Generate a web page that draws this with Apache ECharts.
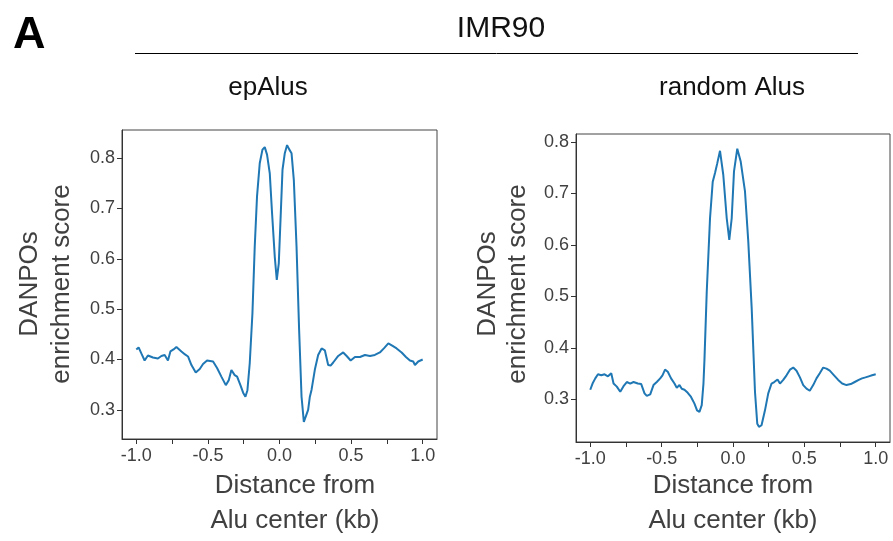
<!DOCTYPE html>
<html>
<head>
<meta charset="utf-8">
<script src="https://cdn.jsdelivr.net/npm/echarts@6/dist/echarts.min.js"></script>
<style>html,body{margin:0;padding:0;background:#fff}#c{width:893px;height:541px}</style>
</head>
<body>
<div id="c"></div>
<script>
// ---- data (kb from Alu center, DANPOs enrichment score) ----
const epX = [-1.000,-0.984,-0.965,-0.942,-0.919,-0.884,-0.849,-0.825,-0.802,-0.779,-0.762,-0.740,-0.720,-0.685,-0.660,-0.639,-0.615,-0.585,-0.557,-0.534,-0.506,-0.464,-0.436,-0.406,-0.375,-0.354,-0.336,-0.313,-0.296,-0.273,-0.254,-0.238,-0.224,-0.208,-0.189,-0.173,-0.157,-0.138,-0.119,-0.103,-0.087,-0.068,-0.052,-0.033,-0.019,-0.005,0.009,0.021,0.037,0.053,0.067,0.084,0.100,0.119,0.137,0.154,0.170,0.182,0.200,0.212,0.224,0.247,0.270,0.294,0.317,0.340,0.357,0.375,0.410,0.445,0.469,0.497,0.527,0.562,0.597,0.632,0.666,0.701,0.729,0.760,0.790,0.818,0.853,0.883,0.911,0.934,0.946,0.969,1.000];
const epY = [0.420,0.424,0.412,0.398,0.408,0.404,0.402,0.407,0.409,0.398,0.416,0.420,0.425,0.416,0.410,0.406,0.389,0.374,0.381,0.391,0.398,0.396,0.383,0.366,0.349,0.359,0.379,0.369,0.366,0.349,0.334,0.326,0.339,0.392,0.492,0.624,0.724,0.790,0.817,0.822,0.807,0.770,0.691,0.604,0.558,0.591,0.691,0.777,0.810,0.826,0.818,0.810,0.757,0.624,0.459,0.326,0.276,0.273,0.300,0.326,0.340,0.380,0.409,0.422,0.418,0.389,0.388,0.394,0.407,0.414,0.407,0.398,0.405,0.405,0.409,0.407,0.409,0.414,0.422,0.432,0.427,0.422,0.414,0.405,0.398,0.396,0.389,0.396,0.400];

const rdX = [-1.000,-0.984,-0.965,-0.946,-0.923,-0.900,-0.876,-0.853,-0.837,-0.814,-0.790,-0.767,-0.744,-0.720,-0.697,-0.667,-0.643,-0.620,-0.604,-0.580,-0.557,-0.534,-0.510,-0.494,-0.476,-0.457,-0.434,-0.410,-0.394,-0.375,-0.359,-0.340,-0.317,-0.294,-0.270,-0.252,-0.235,-0.219,-0.207,-0.200,-0.184,-0.161,-0.142,-0.126,-0.110,-0.091,-0.068,-0.044,-0.026,-0.009,0.007,0.030,0.054,0.084,0.107,0.131,0.154,0.170,0.182,0.200,0.224,0.247,0.270,0.289,0.312,0.329,0.352,0.375,0.399,0.422,0.445,0.469,0.492,0.515,0.538,0.562,0.585,0.608,0.632,0.655,0.678,0.708,0.737,0.765,0.795,0.825,0.853,0.881,0.904,0.928,0.951,0.974,1.000];
const rdY = [0.319,0.331,0.341,0.349,0.347,0.349,0.345,0.351,0.331,0.325,0.315,0.326,0.334,0.331,0.334,0.331,0.330,0.312,0.307,0.310,0.328,0.334,0.341,0.347,0.358,0.354,0.341,0.331,0.323,0.328,0.321,0.319,0.313,0.305,0.292,0.279,0.276,0.289,0.331,0.377,0.509,0.652,0.723,0.740,0.759,0.783,0.736,0.652,0.610,0.652,0.743,0.787,0.762,0.704,0.607,0.477,0.315,0.253,0.247,0.250,0.279,0.312,0.331,0.334,0.339,0.331,0.338,0.347,0.358,0.362,0.356,0.343,0.328,0.321,0.317,0.328,0.341,0.351,0.362,0.360,0.356,0.347,0.338,0.331,0.328,0.330,0.334,0.338,0.341,0.343,0.345,0.347,0.349];

const xTickVals = [-1,-0.75,-0.5,-0.25,0,0.25,0.5,0.75,1];
const xLabelVals = [-1,-0.5,0,0.5,1];
const yTickVals = [0.3,0.4,0.5,0.6,0.7,0.8];

const panelTitles = ['epAlus','random Alus'];
const mainTitle = 'IMR90';
const yName = ['DANPOs','enrichment score'];
const xName = ['Distance from','Alu center (kb)'];

const FONT = '"Liberation Sans", Arial, sans-serif';
const TXT = '#404040';
const BLUE = '#1f77b4';

function xAxis(gi){
  return {type:'value', gridIndex:gi, min:-1.1, max:1.1,
    axisLine:{show:true, onZero:false, lineStyle:{color:'#333', width:1}},
    axisTick:{show:true, inside:false, length:5, lineStyle:{color:'#333'}, customValues:xTickVals},
    axisLabel:{show:true, color:TXT, fontSize:18, fontFamily:FONT, margin:8, customValues:xLabelVals,
      formatter:v=>Number(v).toFixed(1)},
    splitLine:{show:false}};
}
function yAxis(gi,mn,mx){
  return {type:'value', gridIndex:gi, min:mn, max:mx,
    axisLine:{show:true, onZero:false, lineStyle:{color:'#333', width:1}},
    axisTick:{show:true, inside:false, length:5, lineStyle:{color:'#333'}, customValues:yTickVals},
    axisLabel:{show:true, color:TXT, fontSize:18, fontFamily:FONT, margin:7, customValues:yTickVals,
      formatter:v=>Number(v).toFixed(1)},
    splitLine:{show:false}};
}
function txt(x,y,t,size,opts){
  return {type:'text', x:x, y:y, style:Object.assign({text:t, fill:TXT, font:size+'px '+FONT, textAlign:'center', textVerticalAlign:'middle'}, opts||{})};
}

const chart = echarts.init(document.getElementById('c'), null, {renderer:'canvas'});
chart.setOption({
  animation:false,
  backgroundColor:'#fff',
  grid:[
    {left:122, top:130, width:315, height:309, show:true, borderColor:'#444', borderWidth:1, backgroundColor:'transparent'},
    {left:576, top:134, width:314, height:308, show:true, borderColor:'#444', borderWidth:1, backgroundColor:'transparent'}
  ],
  xAxis:[xAxis(0), xAxis(1)],
  yAxis:[yAxis(0,0.242,0.856), yAxis(1,0.2175,0.8156)],
  series:[
    {type:'line', xAxisIndex:0, yAxisIndex:0, data:epX.map((x,i)=>[x,epY[i]]), showSymbol:false, symbol:'none',
      lineStyle:{color:BLUE, width:2}},
    {type:'line', xAxisIndex:1, yAxisIndex:1, data:rdX.map((x,i)=>[x,rdY[i]]), showSymbol:false, symbol:'none',
      lineStyle:{color:BLUE, width:2}}
  ],
  graphic:[
    {type:'text', left:13, top:13, style:{text:'A', fill:'#000', font:'bold 45px '+FONT}},
    txt(501,29,mainTitle,30,{fill:'#111'}),
    {type:'line', shape:{x1:135,y1:53.5,x2:858,y2:53.5}, style:{stroke:'#000', lineWidth:1}},
    txt(268,88,panelTitles[0],26,{fill:'#111'}),
    txt(732,88,panelTitles[1],26,{fill:'#111'}),
    Object.assign(txt(30,284,yName[0],26), {rotation:Math.PI/2}),
    Object.assign(txt(62,284,yName[1],26), {rotation:Math.PI/2}),
    Object.assign(txt(488,284,yName[0],26), {rotation:Math.PI/2}),
    Object.assign(txt(518,284,yName[1],26), {rotation:Math.PI/2}),
    txt(295,486,xName[0],26),
    txt(295,521,xName[1],26),
    txt(733,486,xName[0],26),
    txt(733,521,xName[1],26)
  ]
});
</script>
</body>
</html>
